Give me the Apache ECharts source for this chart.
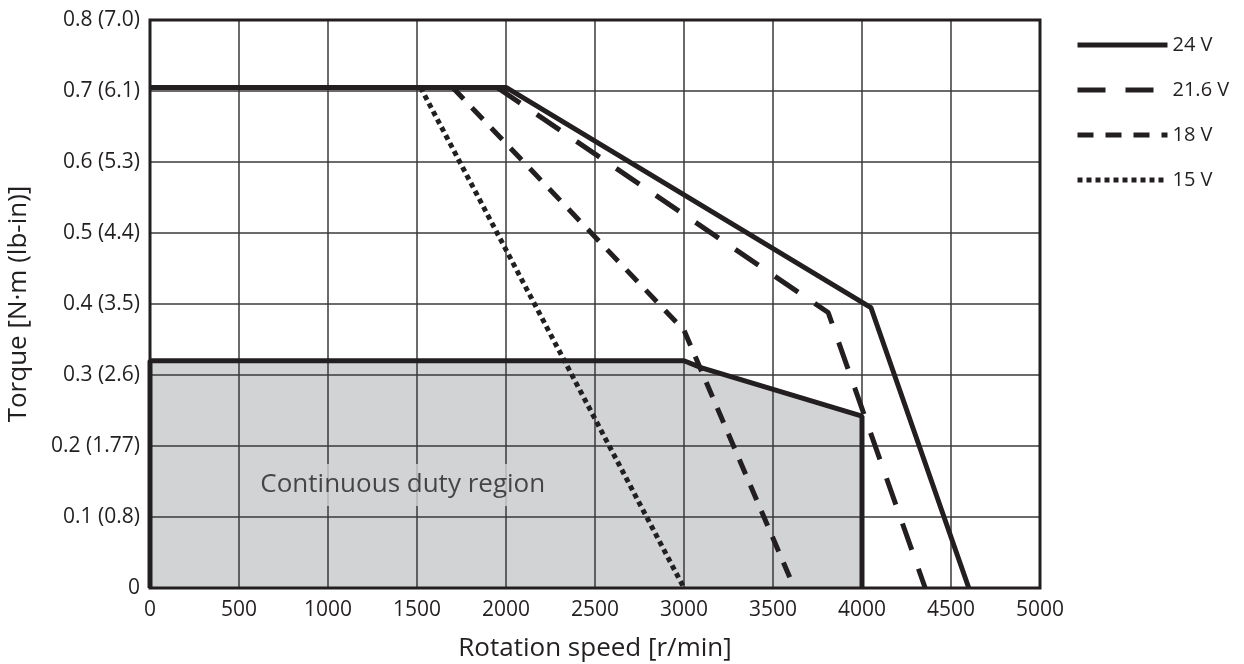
<!DOCTYPE html>
<html>
<head>
<meta charset="utf-8">
<script src="https://cdn.jsdelivr.net/npm/echarts@6/dist/echarts.min.js"></script>
<style>
  html, body { margin: 0; padding: 0; background: #fff; }
  #main { width: 1244px; height: 664px; }
</style>
</head>
<body>
<div id="main"></div>
<script>
// tick labels
const xTicks = [0, 500, 1000, 1500, 2000, 2500, 3000, 3500, 4000, 4500, 5000];
const yTickLabels = ['0', '0.1 (0.8)', '0.2 (1.77)', '0.3 (2.6)', '0.4 (3.5)', '0.5 (4.4)', '0.6 (5.3)', '0.7 (6.1)', '0.8 (7.0)'];

// curves: [speed, torque]
const v24 = [[0, 0.705], [2000, 0.705], [4050, 0.395], [4600, 0]];
const v216 = [[1950, 0.705], [3810, 0.388], [4355, 0]];
const v18 = [[1700, 0.705], [3000, 0.363], [3620, 0]];
const v15 = [[1520, 0.705], [3000, 0]];
const continuous = [[0, 0], [0, 0.32], [3000, 0.32], [3100, 0.31], [4000, 0.242], [4000, 0]];
const regionLabel = [[1420, 0.145]];

const INK = '#231f20';
const FONT = 'Open Sans';

let chart = echarts.init(document.getElementById('main'));

function curve(name, data, type) {
  return {
    name: name,
    type: 'line',
    data: data,
    symbol: 'none',
    z: 3,
    lineStyle: { color: INK, width: 5, type: type, cap: 'butt' },
    itemStyle: { color: INK }
  };
}

const option = {
  animation: false,
  grid: {
    left: 150, right: 204, top: 20, bottom: 76,
    outerBoundsMode: 'none',
    show: true, z: 2,
    backgroundColor: 'transparent',
    borderColor: INK, borderWidth: 3
  },
  legend: {
    orient: 'vertical',
    left: 1070, top: 29,
    itemWidth: 90, itemHeight: 22, itemGap: 23,
    lineStyle: { width: 5, color: INK, cap: 'butt' },
    itemStyle: { opacity: 0, color: 'transparent', borderColor: 'transparent', borderWidth: 0 },
    textStyle: { fontFamily: FONT, fontSize: 20, color: INK, lineHeight: 22 },
    data: ['24 V', '21.6 V', '18 V', '15 V']
  },
  xAxis: {
    type: 'value', min: 0, max: 5000, interval: 500, z: 1.5,
    name: 'Rotation speed [r/min]', nameLocation: 'middle', nameGap: 48,
    nameTextStyle: { fontFamily: FONT, fontSize: 26, color: INK },
    axisLine: { show: false }, axisTick: { show: false },
    axisLabel: { fontFamily: FONT, fontSize: 21, color: INK, margin: 12, formatter: v => String(v) },
    splitLine: { show: true, lineStyle: { color: '#3a3a3a', width: 1.5 } }
  },
  yAxis: {
    type: 'value', min: 0, max: 0.8, interval: 0.1, z: 1.5,
    name: 'Torque [N·m (lb-in)]', nameLocation: 'middle', nameGap: 118, nameRotate: 90,
    nameTextStyle: { fontFamily: FONT, fontSize: 26, color: INK },
    axisLine: { show: false }, axisTick: { show: false },
    axisLabel: {
      fontFamily: FONT, fontSize: 21, color: INK, margin: 10,
      formatter: v => yTickLabels[Math.round(v * 10)]
    },
    splitLine: { show: true, lineStyle: { color: '#3a3a3a', width: 1.5 } }
  },
  series: [
    {
      // gray fill under the grid lines
      type: 'line', data: continuous, symbol: 'none', z: 1,
      lineStyle: { width: 0 },
      areaStyle: { color: '#d1d3d4', opacity: 1 }
    },
    {
      // border of the continuous duty region
      type: 'line', data: continuous, symbol: 'none', z: 3,
      lineStyle: { color: INK, width: 5 }
    },
    curve('24 V', v24, 'solid'),
    curve('21.6 V', v216, [28, 20]),
    curve('18 V', v18, [16, 12]),
    curve('15 V', v15, [5, 4]),
    {
      type: 'scatter', data: regionLabel, symbolSize: 0, z: 2.5,
      label: {
        show: true, position: 'inside',
        formatter: 'Continuous duty region',
        fontFamily: FONT, fontSize: 26, color: INK,
        backgroundColor: '#d1d3d4', padding: [8, 10]
      }
    }
  ]
};

chart.setOption(option);
</script>
</body>
</html>
